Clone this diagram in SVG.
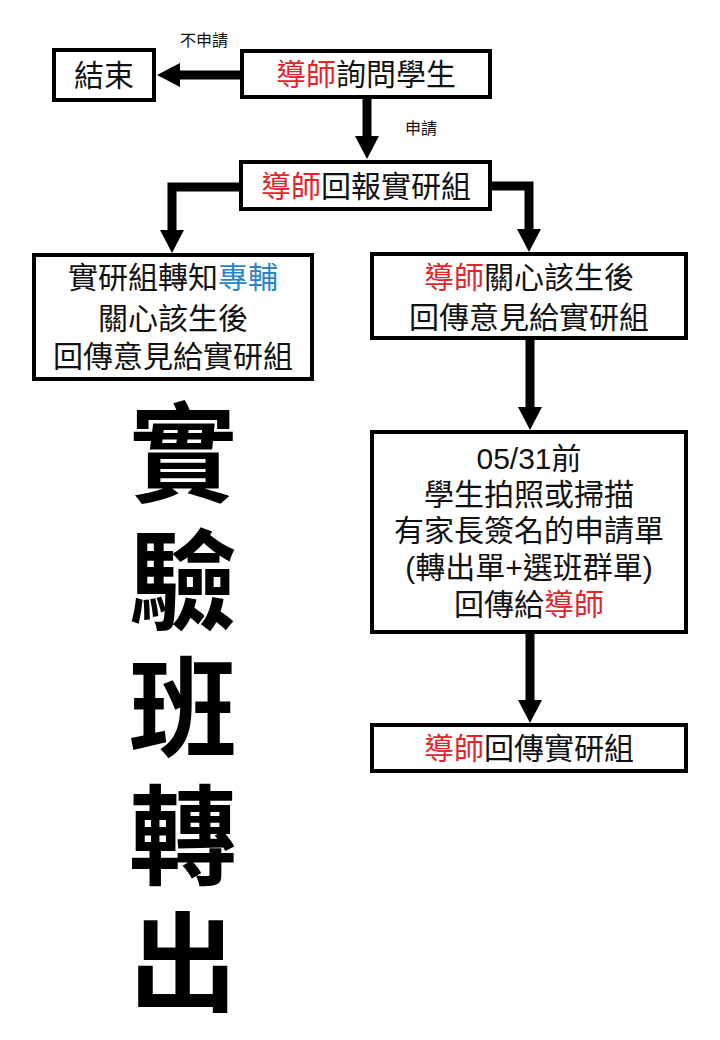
<svg xmlns="http://www.w3.org/2000/svg" width="720" height="1040" viewBox="0 0 720 1040">
<style>
.box{fill:#fff;stroke:#000;stroke-width:4}
.t{font-family:"Liberation Sans","Noto Sans CJK TC","Noto Sans CJK SC",sans-serif;font-size:30px;fill:#111;text-anchor:middle}
.s{font-family:"Liberation Sans","Noto Sans CJK TC","Noto Sans CJK SC",sans-serif;font-size:16px;fill:#111;text-anchor:middle}
.r{fill:#e0262b}
.b{fill:#2b86c5}
.title{font-family:"Noto Sans CJK TC","Noto Sans CJK SC",serif;font-size:108px;font-weight:700;fill:#000;writing-mode:vertical-rl;letter-spacing:19.5px}
.c{fill:none;stroke:#000;stroke-width:9;stroke-linejoin:miter}
</style>
<defs>
<marker id="ah" markerUnits="userSpaceOnUse" markerWidth="24" markerHeight="26" refX="0" refY="12" orient="auto" viewBox="0 0 24 24">
<path d="M0,0 L23,12 L0,24 z" fill="#000"/>
</marker>
</defs>
<rect width="720" height="1040" fill="#fff"/>
<g id="connectors">
<path class="c" d="M241,75 L180,75" marker-end="url(#ah)"/>
<path class="c" d="M367,99 L367,136" marker-end="url(#ah)"/>
<path class="c" d="M240,187 L172,187 L172,230" marker-end="url(#ah)"/>
<path class="c" d="M491,186 L529,186 L529,229" marker-end="url(#ah)"/>
<path class="c" d="M530,340 L530,407" marker-end="url(#ah)"/>
<path class="c" d="M530,634 L530,700" marker-end="url(#ah)"/>
<text class="s" x="204" y="46">不申請</text>
<text class="s" x="421" y="134">申請</text>
</g>
<g id="end">
<rect class="box" x="54" y="50" width="100" height="50"/>
<text class="t" x="104" y="86">結束</text>
</g>
<g id="ask">
<rect class="box" x="242" y="51" width="248" height="46"/>
<text class="t" x="366" y="85"><tspan class="r">導師</tspan>詢問學生</text>
</g>
<g id="report">
<rect class="box" x="241" y="162" width="249" height="47"/>
<text class="t" x="366" y="197"><tspan class="r">導師</tspan>回報實研組</text>
</g>
<g id="left">
<rect class="box" x="34" y="255" width="278" height="124"/>
<text class="t" x="173" y="288">實研組轉知<tspan class="b">專輔</tspan></text>
<text class="t" x="173" y="329">關心該生後</text>
<text class="t" x="173" y="367">回傳意見給實研組</text>
</g>
<g id="right">
<rect class="box" x="372" y="254" width="314" height="84"/>
<text class="t" x="529" y="288"><tspan class="r">導師</tspan>關心該生後</text>
<text class="t" x="529" y="328">回傳意見給實研組</text>
</g>
<g id="photo">
<rect class="box" x="372" y="432" width="314" height="200"/>
<text class="t" x="529" y="469">05/31前</text>
<text class="t" x="529" y="505">學生拍照或掃描</text>
<text class="t" x="529" y="541">有家長簽名的申請單</text>
<text class="t" x="529" y="578">(轉出單+選班群單)</text>
<text class="t" x="529" y="615">回傳給<tspan class="r">導師</tspan></text>
</g>
<g id="final">
<rect class="box" x="372" y="725" width="314" height="46"/>
<text class="t" x="529" y="759"><tspan class="r">導師</tspan>回傳實研組</text>
</g>
<g id="title">
<text class="title" x="183" y="398">實驗班轉出</text>
</g>
</svg>
